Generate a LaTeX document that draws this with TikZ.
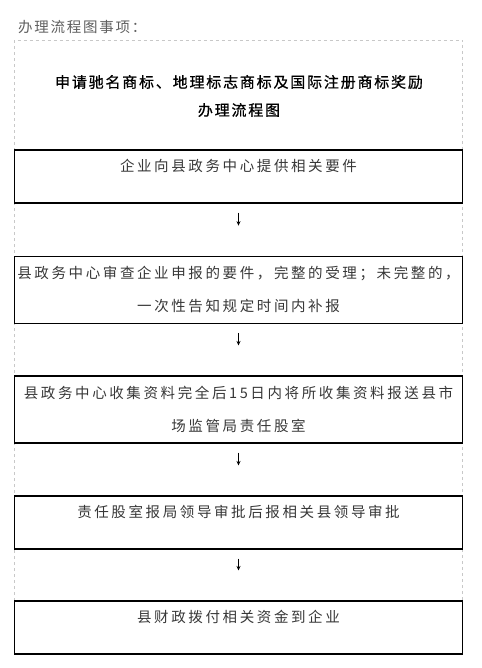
\documentclass[tikz,border=0pt]{standalone}
\usepackage{fontspec}
\newfontfamily\cjk{Noto Sans CJK SC}[LetterSpace=18]
\newfontfamily\cjkhead{Noto Sans CJK SC}[LetterSpace=12]
\newfontfamily\cjktitle{Noto Sans CJK SC}[LetterSpace=12,FakeBold=0.8]
\usetikzlibrary{arrows.meta}
\definecolor{steptext}{RGB}{55,55,55}
\definecolor{headtext}{RGB}{95,95,95}
\definecolor{framegray}{RGB}{200,200,200}

\begin{document}
\begin{tikzpicture}[x=1pt,y=-1pt,
    stepbox/.style={draw,line width=1.1pt,minimum width=448pt,inner sep=0pt,align=center,text=steptext,font={\cjk\fontsize{14.5}{33}\selectfont}},
    oneline/.style={minimum height=53pt,text height=11pt,text depth=21pt},
    twoline/.style={minimum height=67pt},
    flow/.style={->,line width=0.8pt,shorten <=9pt,shorten >=30pt},
    >={Stealth[length=4.5pt,width=4pt]}
]
\useasboundingbox (0,0) rectangle (481,668);
\node[anchor=west,inner sep=0pt,text=headtext,font={\cjkhead\fontsize{14.5}{16}\selectfont}] (head) at (18,27) {办理流程图事项：};
\draw[framegray,line width=0.8pt,dash pattern=on 3pt off 3pt] (14.5,601) -- (14.5,40) -- (462.5,40) -- (462.5,601);
\node[align=center,font={\cjktitle\fontsize{15}{28}\selectfont}] (title) at (239,96) {申请驰名商标、地理标志商标及国际注册商标奖励\\办理流程图};
% steps
\node[stepbox,oneline] (s1) at (238.5,176.5) {企业向县政务中心提供相关要件};
\node[stepbox,twoline] (s2) at (238.5,289.7) {县政务中心审查企业申报的要件，完整的受理；未完整的，\\一次性告知规定时间内补报};
\node[stepbox,twoline] (s3) at (238.5,409.5) {县政务中心收集资料完全后15日内将所收集资料报送县市\\场监管局责任股室};
\node[stepbox,oneline] (s4) at (238.5,522.5) {责任股室报局领导审批后报相关县领导审批};
\node[stepbox,oneline] (s5) at (238.5,627.5) {县财政拨付相关资金到企业};
\foreach \a/\b in {s1/s2,s2/s3,s3/s4,s4/s5} {
    \draw[flow] (\a) -- (\b);
}
\end{tikzpicture}
\end{document}
